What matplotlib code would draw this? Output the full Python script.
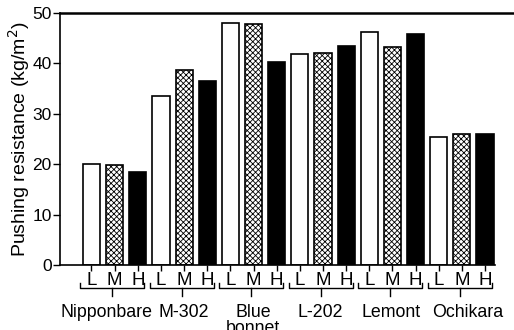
import matplotlib
matplotlib.use("Agg")
import matplotlib.pyplot as plt
import matplotlib.transforms as mtransforms
import numpy as np

plt.rcParams['font.family'] = ['Liberation Sans', 'DejaVu Sans']
plt.rcParams['hatch.linewidth'] = 0.6

varieties = ["Nipponbare", "M-302", "Blue\nbonnet", "L-202", "Lemont", "Ochikara"]
levels = ["L", "M", "H"]
values_L = [20.0, 33.5, 48.0, 41.8, 46.3, 25.3]
values_M = [19.8, 38.6, 47.8, 42.0, 43.3, 26.0]
values_H = [18.5, 36.6, 40.3, 43.5, 45.8, 26.0]
yticks = [0, 10, 20, 30, 40, 50]

# small horizontal nudges of group names (layout only, in bar-slot units)
name_nudge = [-0.37, 0.0, -0.02, -0.11, -0.04, 0.24]

fig = plt.figure(figsize=(5.14, 3.30), dpi=100)
ax = fig.add_axes([60/514, 1-265/330, 1-60/514, (265-13)/330])

styles = [dict(facecolor="white", hatch=None),
          dict(facecolor="white", hatch="xxxxxx"),
          dict(facecolor="black", hatch=None)]
series = [values_L, values_M, values_H]
pos_all, lab_all = [], []
for g in range(len(varieties)):
    for k in range(3):
        p = g*3 + k
        ax.bar(p, series[k][g], width=0.74, edgecolor="black", linewidth=1.2,
               **styles[k])
        pos_all.append(p)
        lab_all.append(levels[k])

ax.set_xlim(-1.36, 18.25)
ax.set_ylim(0, 50)
ax.set_yticks(yticks)
ax.set_xticks(pos_all)
ax.set_xticklabels(lab_all, fontsize=13.5)
ax.tick_params(axis='x', length=4, width=1, pad=1)
ax.tick_params(axis='y', length=5, width=1, labelsize=12.5, pad=1)
ax.spines['right'].set_visible(False)
ax.spines['top'].set_linewidth(1.8)
ax.spines['left'].set_linewidth(1.2)
ax.spines['bottom'].set_linewidth(1.2)
ax.spines['bottom'].set_bounds(-1.36, 17.43)
ax.set_ylabel("Pushing resistance (kg/m$^2$)", fontsize=14, labelpad=0)

trans = mtransforms.blended_transform_factory(ax.transData, ax.transAxes)
y_br = (265-288)/252
y_up = (265-283)/252
y_dn = (265-296)/252
for g, name in enumerate(varieties):
    c = g*3 + 1 - 0.1
    x0, x1 = c - 1.38, c + 1.38
    ax.plot([x0, x0, x1, x1], [y_up, y_br, y_br, y_up], color="black", lw=1,
            transform=trans, clip_on=False)
    ax.plot([c, c], [y_br, y_dn], color="black", lw=1, transform=trans, clip_on=False)
    ax.text(g*3 + 1 + name_nudge[g], (265-304)/252, name, transform=trans,
            ha="center", va="top", fontsize=12.8, linespacing=0.95)

fig.savefig("out.png", dpi=100)
